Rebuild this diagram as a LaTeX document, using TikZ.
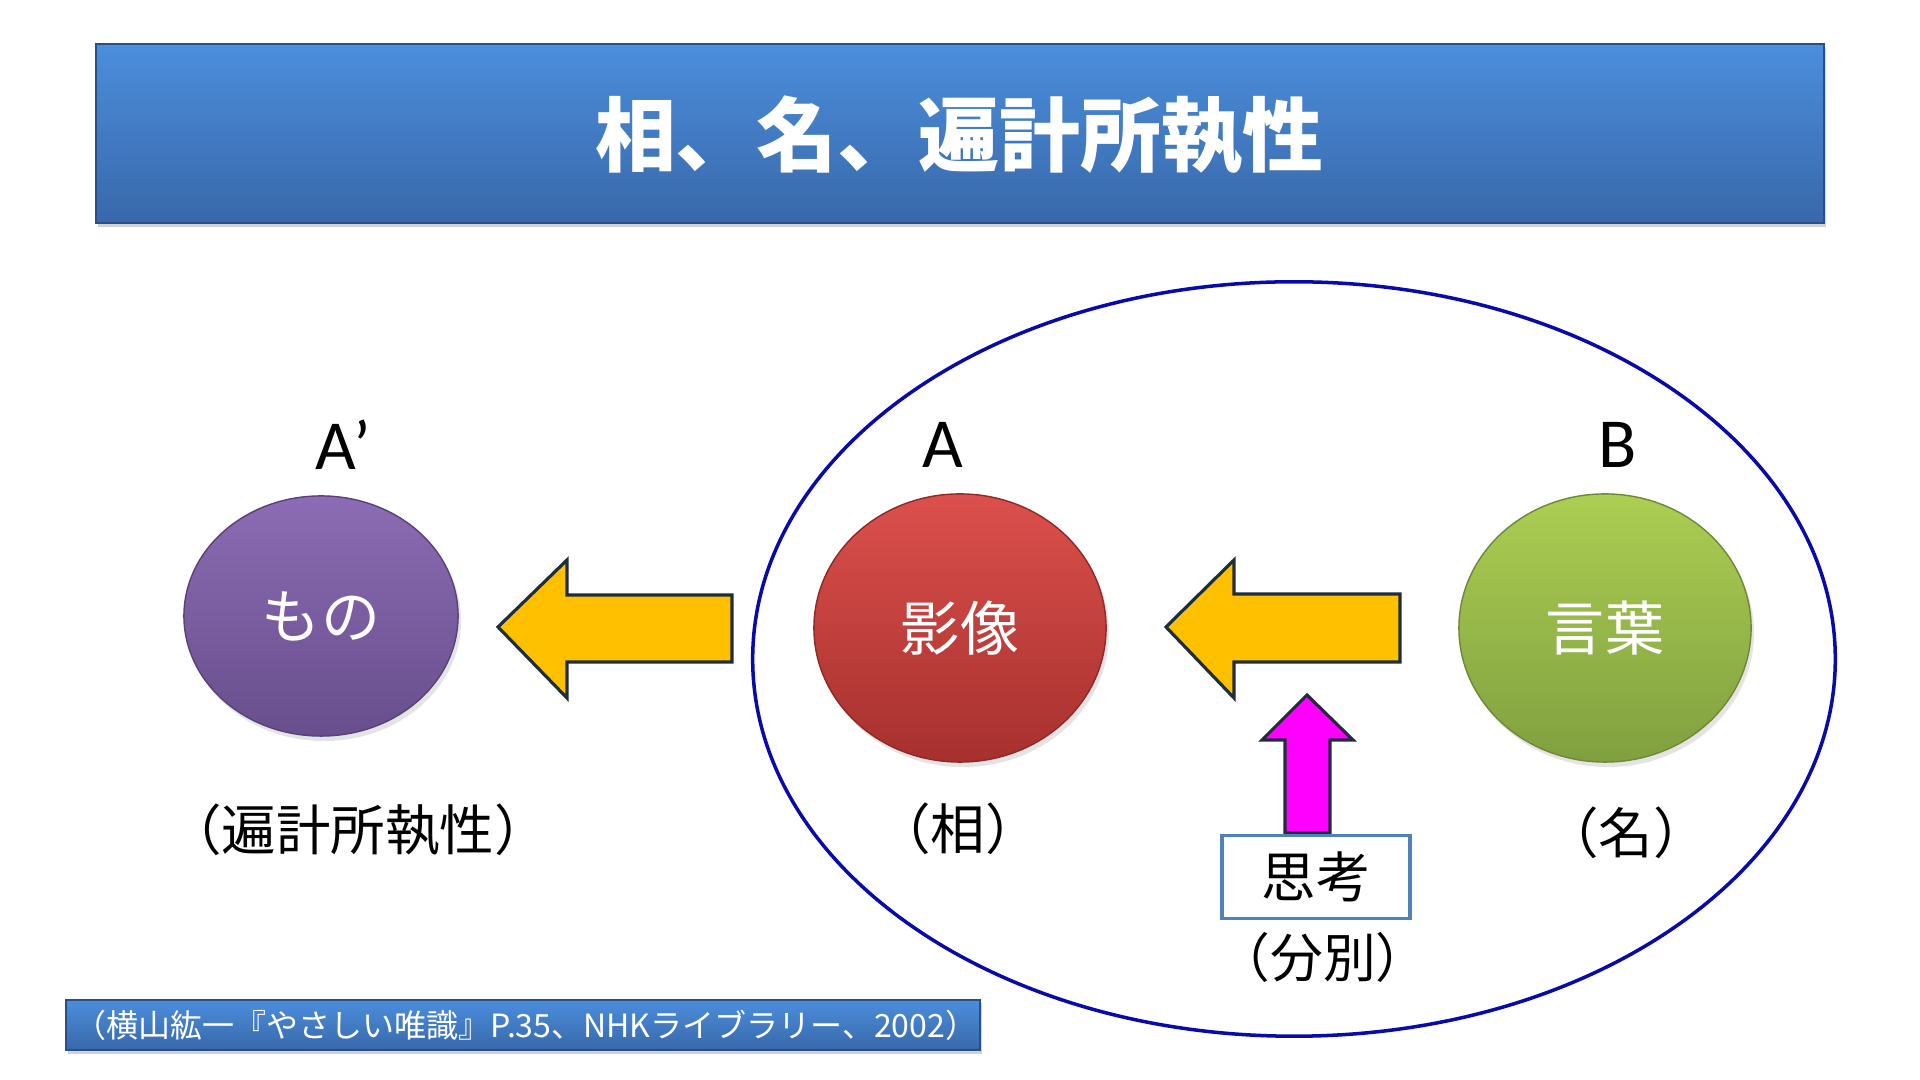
\documentclass[tikz,border=0pt]{standalone}
\usepackage{fontspec}
\newfontfamily\cjk{Noto Sans CJK JP}
\newfontfamily\lat{Carlito}
\usetikzlibrary{shapes.geometric}
\definecolor{barTop}{RGB}{76,142,220}
\definecolor{barBot}{RGB}{56,104,170}
\definecolor{barEdge}{RGB}{40,80,135}
\definecolor{purTop}{RGB}{140,108,180}
\definecolor{purBot}{RGB}{104,78,140}
\definecolor{redTop}{RGB}{220,80,76}
\definecolor{redBot}{RGB}{166,48,46}
\definecolor{grnTop}{RGB}{172,206,82}
\definecolor{grnBot}{RGB}{128,160,64}
\definecolor{arrowFill}{RGB}{255,192,0}
\definecolor{arrowLine}{RGB}{30,45,60}
\definecolor{magFill}{RGB}{255,0,255}
\definecolor{ringBlue}{RGB}{10,10,170}
\definecolor{boxBlue}{RGB}{79,129,189}
\tikzset{
  bar/.style={top color=barTop, bottom color=barBot, draw=barEdge, line width=0.6pt},
  blob/.style={ellipse, inner sep=0pt, text=white, font=\cjk\fontsize{16.8}{18}\selectfont},
  blockarrow/.style={fill=arrowFill, draw=arrowLine, line width=0.9pt, line join=miter},
  letter/.style={font=\lat\fontsize{20}{22}\selectfont, text=black},
  paren/.style={font=\cjk\fontsize{15.5}{17}\selectfont, text=black},
}
\begin{document}
\begin{tikzpicture}[x=0.01cm,y=-0.01cm]
\useasboundingbox (0,0) rectangle (1920,1080);
\fill[white] (0,0) rectangle (1920,1080);
% title bar
\fill[black!35, opacity=0.5] (98,48) rectangle (1826,227);
\path[bar] (96,44) rectangle (1824,223);
\node[text=white, font=\cjk\bfseries\fontsize{23}{26}\selectfont] (title) at (959,135) {相、名、遍計所執性};
% big ellipse
\node[ellipse, draw=ringBlue, line width=1pt, minimum width=10.82cm, minimum height=7.54cm, inner sep=0pt] (whole) at (1294,659) {};
% blobs
\fill[black!30, opacity=0.35] (324,621) ellipse [x radius=1.37cm, y radius=1.20cm];
\node[blob, minimum width=2.74cm, minimum height=2.40cm, top color=purTop, bottom color=purBot, draw=purBot!85!black, line width=0.4pt] (mono) at (321,616) {もの};
\fill[black!30, opacity=0.35] (963,633) ellipse [x radius=1.46cm, y radius=1.34cm];
\node[blob, minimum width=2.92cm, minimum height=2.68cm, top color=redTop, bottom color=redBot, draw=redBot!85!black, line width=0.4pt] (eizo) at (960,628) {影像};
\fill[black!30, opacity=0.35] (1608,633) ellipse [x radius=1.46cm, y radius=1.34cm];
\node[blob, minimum width=2.92cm, minimum height=2.68cm, top color=grnTop, bottom color=grnBot, draw=grnBot!85!black, line width=0.4pt] (kotoba) at (1605,628) {言葉};
% letters
\node[letter] (Ap) at (343,445) {A’};
\node[letter] (A) at (943,445) {A};
\node[letter] (B) at (1618,445) {B};
% paren labels
\node[paren] (henge) at (358,830) {（遍計所執性）};
\node[paren] (so) at (958,829) {（相）};
\node[paren] (myo) at (1626,833) {（名）};
% block arrows
\draw[blockarrow] (498,627) -- (567,560) -- (567,595) -- (732,595) -- (732,662) -- (567,662) -- (567,698) -- cycle;
\draw[blockarrow] (1166,627) -- (1234,560) -- (1234,594) -- (1400,594) -- (1400,662) -- (1234,662) -- (1234,698) -- cycle;
\draw[blockarrow, fill=magFill] (1307,695) -- (1353,740) -- (1330,740) -- (1330,833) -- (1285,833) -- (1285,740) -- (1262,740) -- cycle;
% thinking box
\node[draw=boxBlue, line width=0.9pt, fill=white, minimum width=1.88cm, minimum height=0.83cm, inner sep=0pt, font=\cjk\fontsize{15.5}{17}\selectfont] (shiko) at (1316,877) {思考};
\node[font=\cjk\fontsize{15}{17}\selectfont] (funbetsu) at (1323,957) {（分別）};
% citation
\fill[black!35, opacity=0.5] (68,1003) rectangle (982,1054);
\path[bar] (66,1000) rectangle (980,1050);
\node[anchor=west, text=white, font=\cjk\fontsize{9.1}{10}\selectfont, inner sep=0pt] (cite) at (74,1025) {（横山紘一『やさしい唯識』P.35、NHKライブラリー、2002）};
\end{tikzpicture}
\end{document}
